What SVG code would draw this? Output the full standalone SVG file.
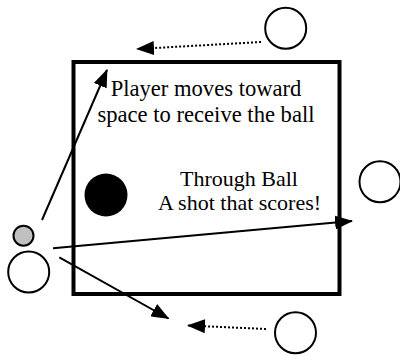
<svg xmlns="http://www.w3.org/2000/svg" width="400" height="356" viewBox="0 0 400 356">
<style>
.lbl{font-family:"Liberation Serif","Times New Roman",serif;font-size:22px;fill:#000;text-anchor:middle}
.big{font-size:22.6px}
.circ{fill:#fff;stroke:#000;stroke-width:2}
.arr{stroke:#000;stroke-width:2;fill:none;marker-end:url(#ah)}
.dot{stroke:#000;stroke-width:2;fill:none;stroke-dasharray:2 2;marker-end:url(#ah)}
</style>
<defs>
<marker id="ah" markerUnits="userSpaceOnUse" markerWidth="18" markerHeight="14" refX="17" refY="7" orient="auto">
<path d="M0,0 L18,7 L0,14 z" fill="#000"/>
</marker>
</defs>
<rect width="400" height="356" fill="#fff"/>
<g id="field"><rect x="73.5" y="62" width="266" height="232" fill="none" stroke="#000" stroke-width="4"/></g>
<g id="label-top">
<text class="lbl big" x="206" y="96">Player moves toward</text>
<text class="lbl big" x="206" y="122">space to receive the ball</text>
</g>
<g id="label-mid">
<text class="lbl" x="239" y="186">Through Ball</text>
<text class="lbl" x="239.5" y="210">A shot that scores!</text>
</g>
<g id="ball"><circle cx="106" cy="195" r="21.5" fill="#000"/></g>
<g id="ball-grey"><circle cx="23.5" cy="235.7" r="10" fill="#c0c0c0" stroke="#000" stroke-width="2"/></g>
<g id="player-left"><circle class="circ" cx="28.7" cy="272" r="20.5"/></g>
<g id="player-top"><circle class="circ" cx="285.7" cy="28.3" r="20.5"/></g>
<g id="player-right"><circle class="circ" cx="380" cy="181.7" r="20.5"/></g>
<g id="player-bottom"><circle class="circ" cx="295.5" cy="332.8" r="20.5"/></g>
<g id="connectors">
<line class="dot" x1="261" y1="42" x2="137" y2="49"/>
<line class="dot" x1="266" y1="329" x2="188" y2="325.5"/>
<line class="arr" x1="42" y1="220" x2="107" y2="70"/>
<line class="arr" x1="53" y1="248.3" x2="352" y2="221"/>
<line class="arr" x1="59.3" y1="257.3" x2="168.5" y2="318.5"/>
</g>
</svg>
